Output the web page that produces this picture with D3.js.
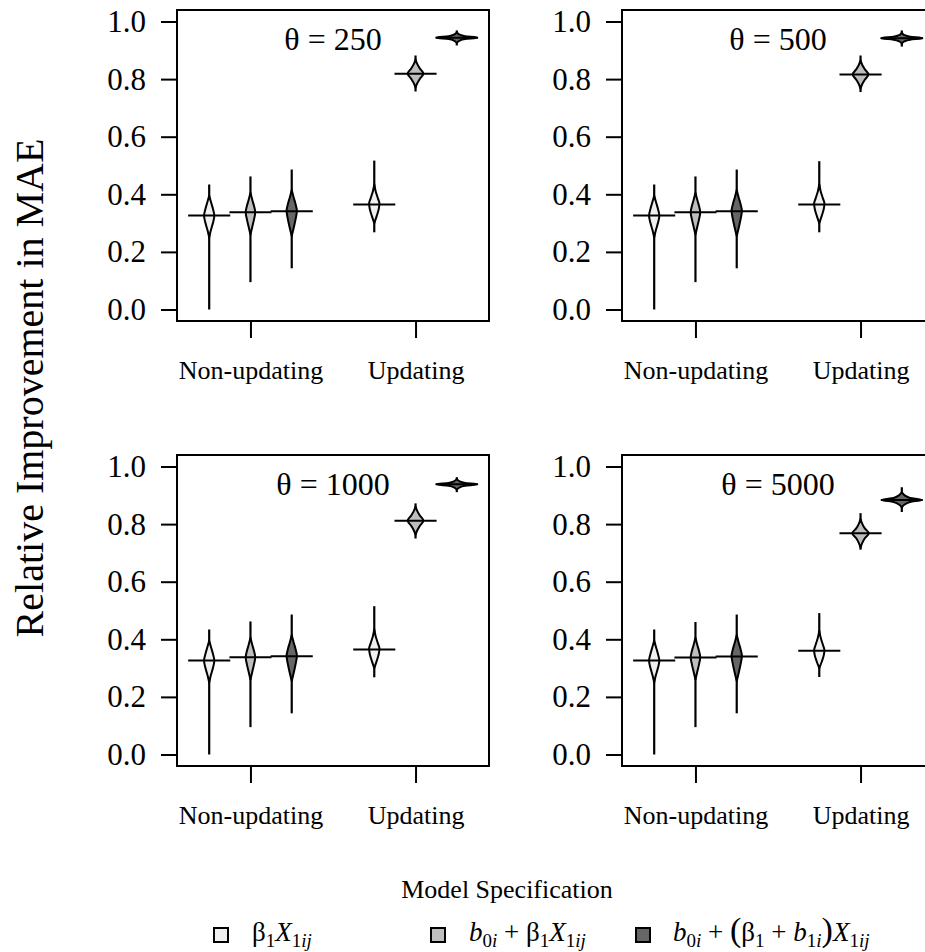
<!DOCTYPE html>
<html>
<head>
<meta charset="utf-8">
<title></title>
<script src="https://d3js.org/d3.v7.min.js"></script>
<style>
body { margin: 0; background: #fff; }
svg { display: block; }
text { white-space: pre; font-family: "Liberation Serif", "DejaVu Serif", serif; }
</style>
</head>
<body>
<div id="chart-container"></div>
<script>
const panelLabels = ['θ = 250', 'θ = 500', 'θ = 1000', 'θ = 5000'];
const groupNames = ['Non-updating', 'Updating'];
const groupTicks = [2, 6];
const violinPos = [1, 2, 3, 5, 6, 7];
const violinSpec = [0, 1, 2, 0, 1, 2];
const specFills = ['#f0f0f0', '#bebebe', '#666666'];
const yTicks = [0, 0.2, 0.4, 0.6, 0.8, 1.0];

// whisker ends and median line, one row per panel (6 violins each)
const whiskerLo = [
    [0.0, 0.095, 0.143, 0.268, 0.757, 0.917],
    [0.0, 0.095, 0.143, 0.268, 0.755, 0.913],
    [0.0, 0.095, 0.143, 0.268, 0.750, 0.911],
    [0.0, 0.095, 0.143, 0.269, 0.711, 0.842]
];
const whiskerHi = [
    [0.434, 0.462, 0.486, 0.517, 0.882, 0.969],
    [0.434, 0.462, 0.486, 0.515, 0.882, 0.969],
    [0.434, 0.462, 0.486, 0.515, 0.872, 0.963],
    [0.434, 0.460, 0.486, 0.491, 0.838, 0.928]
];
const medians = [
    [0.326, 0.338, 0.341, 0.365, 0.819, 0.944],
    [0.326, 0.338, 0.341, 0.365, 0.816, 0.942],
    [0.326, 0.338, 0.341, 0.365, 0.812, 0.938],
    [0.326, 0.337, 0.340, 0.360, 0.768, 0.884]
];

// violin outlines: [value, half width in x units]
const bodiesNonUpdating = [
    [[0.25, 0], [0.275, 0.04], [0.30, 0.09], [0.326, 0.125], [0.35, 0.09], [0.37, 0.05], [0.395, 0]],
    [[0.26, 0], [0.285, 0.04], [0.312, 0.085], [0.338, 0.115], [0.36, 0.085], [0.38, 0.045], [0.405, 0]],
    [[0.255, 0], [0.285, 0.05], [0.318, 0.10], [0.343, 0.125], [0.365, 0.095], [0.39, 0.045], [0.415, 0]]
];
const bodiesUpdating = [
    [
        [[0.30, 0], [0.325, 0.06], [0.35, 0.11], [0.368, 0.125], [0.385, 0.09], [0.41, 0.035], [0.435, 0]],
        [[0.77, 0], [0.785, 0.04], [0.80, 0.10], [0.819, 0.19], [0.838, 0.10], [0.853, 0.04], [0.868, 0]],
        [[0.925, 0], [0.933, 0.06], [0.939, 0.2], [0.944, 0.5], [0.949, 0.2], [0.955, 0.06], [0.963, 0]]
    ],
    [
        [[0.30, 0], [0.325, 0.06], [0.35, 0.11], [0.368, 0.125], [0.385, 0.09], [0.41, 0.035], [0.435, 0]],
        [[0.767, 0], [0.782, 0.04], [0.797, 0.10], [0.816, 0.19], [0.835, 0.10], [0.850, 0.04], [0.865, 0]],
        [[0.923, 0], [0.931, 0.06], [0.937, 0.2], [0.942, 0.5], [0.947, 0.2], [0.953, 0.06], [0.961, 0]]
    ],
    [
        [[0.30, 0], [0.325, 0.06], [0.35, 0.11], [0.368, 0.125], [0.385, 0.09], [0.41, 0.035], [0.435, 0]],
        [[0.763, 0], [0.778, 0.04], [0.793, 0.10], [0.812, 0.19], [0.831, 0.10], [0.846, 0.04], [0.861, 0]],
        [[0.919, 0], [0.927, 0.06], [0.933, 0.2], [0.938, 0.5], [0.943, 0.2], [0.949, 0.06], [0.957, 0]]
    ],
    [
        [[0.30, 0], [0.322, 0.06], [0.345, 0.11], [0.362, 0.125], [0.38, 0.09], [0.405, 0.035], [0.43, 0]],
        [[0.718, 0], [0.734, 0.04], [0.750, 0.10], [0.768, 0.20], [0.786, 0.10], [0.802, 0.04], [0.818, 0]],
        [[0.858, 0], [0.868, 0.07], [0.877, 0.2], [0.884, 0.48], [0.891, 0.2], [0.90, 0.07], [0.91, 0]]
    ]
];

const specLabels = [
    [['β', ''], ['1', 's'], ['X', 'i'], ['1', 's'], ['ij', 'si']],
    [['b', 'i'], ['0', 's'], ['i', 'si'], [' + ', ''], ['β', ''], ['1', 's'], ['X', 'i'], ['1', 's'], ['ij', 'si']],
    [['b', 'i'], ['0', 's'], ['i', 'si'], [' + ', ''], ['(', 'p'], ['β', ''], ['1', 's'], [' + ', ''], ['b', 'i'], ['1', 's'], ['i', 'si'], [')', 'p'], ['X', 'i'], ['1', 's'], ['ij', 'si']]
];

const width = 925, height = 952;
const boxW = 312, boxH = 311, stepXY = 445, left0 = 177, top0 = 10;
const serif = '"Liberation Serif", "DejaVu Serif", serif';

const svg = d3.select('#chart-container').append('svg')
    .attr('width', width)
    .attr('height', height);

const xScale = d3.scaleLinear().domain([0.22, 7.78]).range([0, boxW]);
const yScale = d3.scaleLinear().domain([-0.04, 1.04]).range([boxH, 0]);

panelLabels.forEach((label, p) => {
    const g = svg.append('g')
        .attr('transform', `translate(${left0 + (p % 2) * stepXY},${top0 + Math.floor(p / 2) * stepXY})`);

    const yAxis = g.append('g')
        .call(d3.axisLeft(yScale).tickValues(yTicks).tickFormat(d3.format('.1f')).tickSize(16).tickPadding(15));
    yAxis.select('.domain').remove();
    yAxis.attr('font-family', serif).attr('font-size', 31);
    yAxis.selectAll('line').attr('stroke-width', 2);
    yAxis.selectAll('text').attr('fill', '#000');

    const xAxis = g.append('g')
        .attr('transform', `translate(0,${boxH})`)
        .call(d3.axisBottom(xScale).tickValues(groupTicks).tickFormat((d, i) => groupNames[i]).tickSize(17).tickPadding(23));
    xAxis.select('.domain').remove();
    xAxis.attr('font-family', serif).attr('font-size', 26);
    xAxis.selectAll('line').attr('stroke-width', 2);
    xAxis.selectAll('text').attr('fill', '#000');

    const bodies = bodiesNonUpdating.concat(bodiesUpdating[p]);

    violinPos.forEach((pos, v) => {
        g.append('line')
            .attr('x1', xScale(pos)).attr('x2', xScale(pos))
            .attr('y1', yScale(whiskerLo[p][v])).attr('y2', yScale(whiskerHi[p][v]))
            .attr('stroke', '#000').attr('stroke-width', 2.2);

        const area = d3.area()
            .y(d => yScale(d[0]))
            .x0(d => xScale(pos - d[1]))
            .x1(d => xScale(pos + d[1]))
            .curve(d3.curveMonotoneY);

        g.append('path')
            .attr('d', area(bodies[v]))
            .attr('fill', specFills[violinSpec[v]])
            .attr('stroke', '#000')
            .attr('stroke-width', 2)
            .attr('stroke-linejoin', 'round');

        g.append('line')
            .attr('x1', xScale(pos - 0.51)).attr('x2', xScale(pos + 0.51))
            .attr('y1', yScale(medians[p][v])).attr('y2', yScale(medians[p][v]))
            .attr('stroke', '#000').attr('stroke-width', 2);
    });

    g.append('rect')
        .attr('width', boxW).attr('height', boxH)
        .attr('fill', 'none').attr('stroke', '#000').attr('stroke-width', 2);

    g.append('text')
        .attr('x', boxW / 2).attr('y', 40)
        .attr('text-anchor', 'middle')
        .attr('font-family', serif)
        .attr('font-size', 32)
        .text(label);
});

svg.append('text')
    .attr('transform', 'translate(43,388) rotate(-90)')
    .attr('text-anchor', 'middle')
    .attr('font-family', serif)
    .attr('font-size', 40)
    .text('Relative Improvement in MAE');

// legend
svg.append('text')
    .attr('x', 507).attr('y', 898)
    .attr('text-anchor', 'middle')
    .attr('font-family', serif)
    .attr('font-size', 26)
    .text('Model Specification');

const legendBoxX = [214, 431, 636];
const legendTextX = [252, 469, 673];

specLabels.forEach((tokens, i) => {
    svg.append('rect')
        .attr('x', legendBoxX[i]).attr('y', 928)
        .attr('width', 14).attr('height', 14)
        .attr('fill', specFills[i])
        .attr('stroke', '#000').attr('stroke-width', 2);

    const t = svg.append('text')
        .attr('x', legendTextX[i]).attr('y', 941)
        .attr('font-family', serif)
        .attr('font-size', 27);
    let lowered = false;
    tokens.forEach(([s, k]) => {
        const sub = k.includes('s');
        const span = t.append('tspan').text(s);
        if (k.includes('i')) span.attr('font-style', 'italic');
        if (sub) span.attr('font-size', 19);
        if (k === 'p') span.attr('font-size', 34);
        if (sub && !lowered) span.attr('dy', 6);
        if (!sub && lowered) span.attr('dy', -6);
        lowered = sub;
    });
});
</script>
</body>
</html>
